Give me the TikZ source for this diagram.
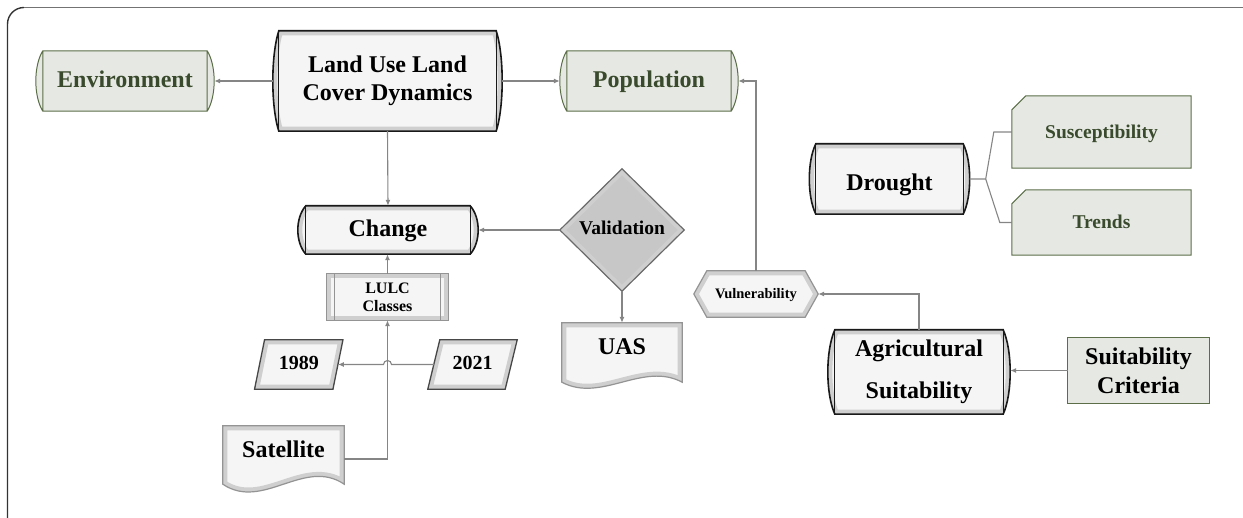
\documentclass[tikz,border=0pt]{standalone}
\usepackage{fontspec}
\setmainfont{Liberation Serif}
\usetikzlibrary{calc,arrows.meta,backgrounds}

\definecolor{gfill}{HTML}{E6E9E3}
\definecolor{gline}{HTML}{5B6E47}
\definecolor{gtext}{HTML}{3A4A2C}
\definecolor{cline}{HTML}{858585}
\definecolor{pfill}{HTML}{F5F5F5}

% horizontal "cylinder" outline: node #1, bulge #2, height #3
\newcommand\cylpath[3]{(#1.north west) -- (#1.north east) .. controls ($(#1.north east)+(1.33*#2,#3/4)$) and ($(#1.south east)+(1.33*#2,-#3/4)$) .. (#1.south east) -- (#1.south west) .. controls ($(#1.south west)+(-1.33*#2,-#3/4)$) and ($(#1.north west)+(-1.33*#2,#3/4)$) .. (#1.north west) -- cycle}
\newcommand\innerlines[1]{(#1.north west) -- (#1.south west) (#1.north east) -- (#1.south east)}
\newcommand\snippath[2]{($(#1.north west)+(0,#2)$) -- ($(#1.north west)+(#2,0)$) -- (#1.north east) -- (#1.south east) -- (#1.south west) -- cycle}
\newcommand\hexpath[2]{($(#1.west)+(-#2,0)$) -- (#1.north west) -- (#1.north east) -- ($(#1.east)+(#2,0)$) -- (#1.south east) -- (#1.south west) -- cycle}
\newcommand\parapath[2]{($(#1.south west)+(-#2,0)$) -- ($(#1.north west)+(#2,0)$) -- ($(#1.north east)+(#2,0)$) -- ($(#1.south east)+(-#2,0)$) -- cycle}
\newcommand\docpath[3]{(#1.north west) -- (#1.north east) -- (#1.south east) .. controls ($(#1.south east)+(-0.33*#2,-#3)$) and ($(#1.south west)+(0.33*#2,#3)$) .. (#1.south west) -- cycle}
\newcommand\diapath[1]{(#1.west) -- (#1.north) -- (#1.east) -- (#1.south) -- cycle}
\newcommand\fancyshape[3]{%
  \fill[#2] #1;
  \begin{scope}
    \clip #1;
    \draw[glow] #1;
  \end{scope}
  \draw[#3] #1;}

\tikzset{
  box/.style={rectangle, inner sep=0pt, align=center},
  big/.style={font=\bfseries\fontsize{24}{28}\selectfont},
  mid/.style={font=\bfseries\fontsize{19.5}{23}\selectfont},
  tb/.style 2 args={text height=#1pt, text depth=#2pt},
  glow/.style={draw=black!19, line width=9pt},
  darkline/.style={draw=black!90, line width=1.6pt},
  softline/.style={draw=black!42, line width=1.2pt},
  paraline/.style={draw=black!72, line width=1.3pt},
  greenline/.style={draw=gline, line width=1pt},
  conn/.style={draw=cline, line width=1.1pt, -{Latex[length=6pt,width=5pt]}},
  bracket/.style={draw=cline, line width=1.1pt},
}

\begin{document}
\begin{tikzpicture}[x=1pt,y=-1pt]
\useasboundingbox (0,0) rectangle (1243,518);

% outer frame
\draw[black!80, line width=1.4pt] (7.5,518) -- (7.5,24) arc[start angle=180, end angle=270, radius=16.5];
\draw[black!55, line width=1.4pt] (24,7.5) -- (1243,7.5);

% ---------- nodes ----------
\node[box, big, tb={15}{1}, text=gtext, minimum width=164, minimum height=60] (env) at (125,81) {Environment};
\node[box, big, tb={15}{1}, text=gtext, minimum width=164, minimum height=60] (pop) at (649,81) {Population};
\node[box, big, minimum width=217, minimum height=100] (lu) at (387.5,81) {Land Use Land\\Cover Dynamics};
\node[box, big, tb={15}{1}, minimum width=164, minimum height=48] (ch) at (388,230) {Change};
\node[box, big, tb={24}{0}, minimum width=147, minimum height=70] (dr) at (889.5,179) {Drought};
\node[box, mid, tb={15}{1}, text=gtext, minimum width=179, minimum height=72] (sus) at (1101.5,132) {Susceptibility};
\node[box, mid, tb={14}{1}, text=gtext, minimum width=179, minimum height=65] (tr) at (1101.5,222.5) {Trends};
\node[box, mid, tb={11}{1}, minimum width=124, minimum height=122] (val) at (622,230) {Validation};
\node[box, big, tb={6}{1}, minimum width=120, minimum height=59] (uas) at (622,352.5) {UAS};
\node[box, font=\bfseries\fontsize{16}{18}\selectfont, minimum width=121, minimum height=46] (lulc) at (387.5,297) {LULC\\Classes};
\node[box, font=\bfseries\fontsize{20}{24}\selectfont, tb={12}{1}, minimum width=78, minimum height=49] (y89) at (298.75,364.5) {1989};
\node[box, font=\bfseries\fontsize{20}{24}\selectfont, tb={12}{1}, minimum width=77, minimum height=49] (y21) at (472.5,364.5) {2021};
\node[box, big, tb={8}{2}, minimum width=121, minimum height=58] (sat) at (283.5,455) {Satellite};
\node[box, font=\bfseries\fontsize{14.5}{17}\selectfont, tb={11}{1}, minimum width=98, minimum height=46] (vul) at (756,294) {Vulnerability};
\node[box, font=\bfseries\fontsize{24}{42}\selectfont, minimum width=168, minimum height=84] (ag) at (919,372) {Agricultural\\Suitability};
\node[box, font=\bfseries\fontsize{24}{29}\selectfont, minimum width=141, minimum height=65] (crit) at (1138.5,370.5) {Suitability\\Criteria};

% ---------- shapes (behind text) ----------
\begin{scope}[on background layer]
  % green cylinders
  \fill[gfill] \cylpath{env}{7}{60};
  \draw[greenline] \cylpath{env}{7}{60} \innerlines{env};
  \fill[gfill] \cylpath{pop}{7}{60};
  \draw[greenline] \cylpath{pop}{7}{60} \innerlines{pop};
  % grey cylinders
  \fancyshape{\cylpath{lu}{6}{100}}{pfill}{darkline}
  \draw[darkline, line width=1.1pt] \innerlines{lu};
  \fancyshape{\cylpath{ch}{8}{48}}{pfill}{darkline}
  \draw[darkline, line width=1.1pt] \innerlines{ch};
  \fancyshape{\cylpath{dr}{6.5}{70}}{pfill}{darkline}
  \draw[darkline, line width=1.1pt] \innerlines{dr};
  \fancyshape{\cylpath{ag}{7}{84}}{pfill}{darkline}
  \draw[darkline, line width=1.1pt] \innerlines{ag};
  % green snipped boxes
  \fill[gfill] \snippath{sus}{14};
  \draw[greenline] \snippath{sus}{14};
  \fill[gfill] \snippath{tr}{14};
  \draw[greenline] \snippath{tr}{14};
  % criteria
  \fill[gfill] (crit.north west) rectangle (crit.south east);
  \draw[greenline] (crit.north west) rectangle (crit.south east);
  % diamond
  \fancyshape{\diapath{val}}{black!22}{draw=black!58, line width=1.2pt}
  % LULC predefined process
  \fancyshape{(lulc.north west) rectangle (lulc.south east)}{pfill}{softline}
  \draw[softline] ($(lulc.north west)+(8,0)$) -- ($(lulc.south west)+(8,0)$)
                  ($(lulc.north east)+(-8,0)$) -- ($(lulc.south east)+(-8,0)$);
  % parallelograms
  \fancyshape{\parapath{y89}{5}}{pfill}{paraline}
  \fancyshape{\parapath{y21}{6}}{pfill}{paraline}
  % documents
  \fancyshape{\docpath{sat}{121}{27}}{pfill}{softline}
  \fancyshape{\docpath{uas}{120}{21}}{pfill}{softline}
  % hexagon
  \fancyshape{\hexpath{vul}{13}}{pfill}{softline}
\end{scope}

% ---------- connectors ----------
\draw[conn] ($(lu.west)+(-6,0)$) -- ($(env.east)+(7,0)$);
\draw[conn] ($(lu.east)+(6,0)$) -- ($(pop.west)+(-7,0)$);
\draw[conn] (lu.south) -- (ch.north);
\draw[conn] (val.west) -- ($(ch.east)+(8,0)$);
\draw[conn] (val.south) -- (uas.north);
\draw[conn] (lulc.north) -- (lulc.north |- ch.south);
\draw[conn] ($(sat.east)+(0,4)$) -| (lulc.south);
\draw[conn] (y21.west) -- ($(lulc.south |- y21.west)+(4,0)$) arc[start angle=0, end angle=-180, radius=4] -- (y89.east);
\draw[conn] (vul.north) |- ($(pop.east)+(7,0)$);
\draw[conn] (ag.north) |- ($(vul.east)+(13,0)$);
\draw[conn] (crit.west) -- ($(crit.west -| ag.east)+(7,0)$);
\draw[bracket] ($(dr.east)+(6.5,0)$) -- ++(16,0) coordinate (drj) -- ($(sus.west)+(-18,0)$) -- (sus.west);
\draw[bracket] (drj) -- ($(tr.west)+(-12,0)$) -- (tr.west);
\end{tikzpicture}
\end{document}
